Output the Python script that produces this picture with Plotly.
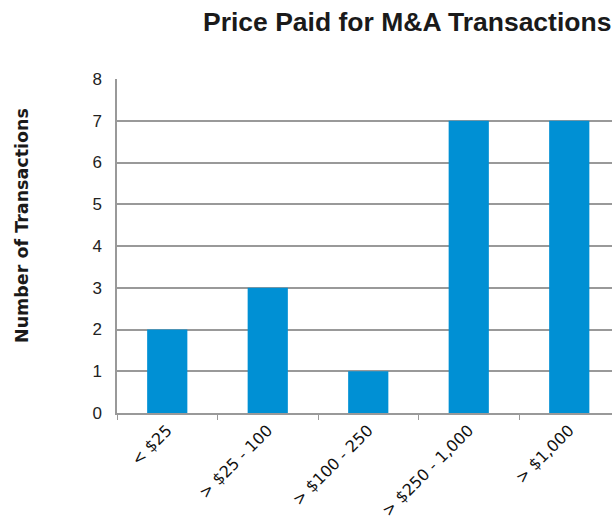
import plotly.graph_objects as go

categories = ["< $25", "> $25 - 100", "> $100 - 250", "> $250 - 1,000", "> $1,000"]
transactions = [2, 3, 1, 7, 7]
y_ticks = [0, 1, 2, 3, 4, 5, 6, 7, 8]

W, H = 612, 519
L, T, B = 117, 79, 106

fig = go.Figure(go.Bar(
    x=categories, y=transactions,
    marker=dict(color="#0090D4", line=dict(width=0)),
    width=0.4,
))

fig.update_layout(
    width=W, height=H,
    margin=dict(l=L, r=0, t=T, b=B, pad=0, autoexpand=False),
    paper_bgcolor="white", plot_bgcolor="white",
    showlegend=False,
    title=dict(
        text="<b>Price Paid for M&A Transactions</b>",
        x=203 / W, xanchor="left", xref="container",
        y=1 - 22 / H, yanchor="middle", yref="container",
        font=dict(family="Liberation Sans, Arial", size=26.5, color="#1a1a1a"),
    ),
    xaxis=dict(
        type="category",
        automargin=False,
        range=[-0.5, -0.5 + (W - L) / 100.5],
        tickangle=-45,
        tickson="boundaries",
        ticks="outside", ticklen=5, tickcolor="#999999", tickwidth=1,
        showline=True, linecolor="#999999", linewidth=1.5,
        showgrid=False,
        tickfont=dict(family="DejaVu Sans", size=16, color="#111111"),
    ),
    yaxis=dict(
        automargin=False,
        range=[0, 8],
        tickvals=y_ticks,
        showgrid=True, gridcolor="#999999", gridwidth=1.5,
        showline=True, linecolor="#999999", linewidth=1.5,
        ticks="", ticklabelstandoff=10,
        zeroline=False,
        tickfont=dict(family="Liberation Sans, Arial", size=17, color="#222222"),
    ),
    annotations=[dict(
        text="<b>Number of Transactions</b>",
        textangle=-90,
        xref="paper", yref="paper",
        x=(22 - L) / (W - L), y=(H - B - 226) / (H - T - B),
        xanchor="center", yanchor="middle", showarrow=False,
        font=dict(family="DejaVu Sans", size=17.5, color="#1a1a1a"),
    )],
)

fig.write_html(
    "out.html",
    config={"displayModeBar": False},
    post_script="document.body.style.margin='0';document.body.style.overflow='hidden';",
)
